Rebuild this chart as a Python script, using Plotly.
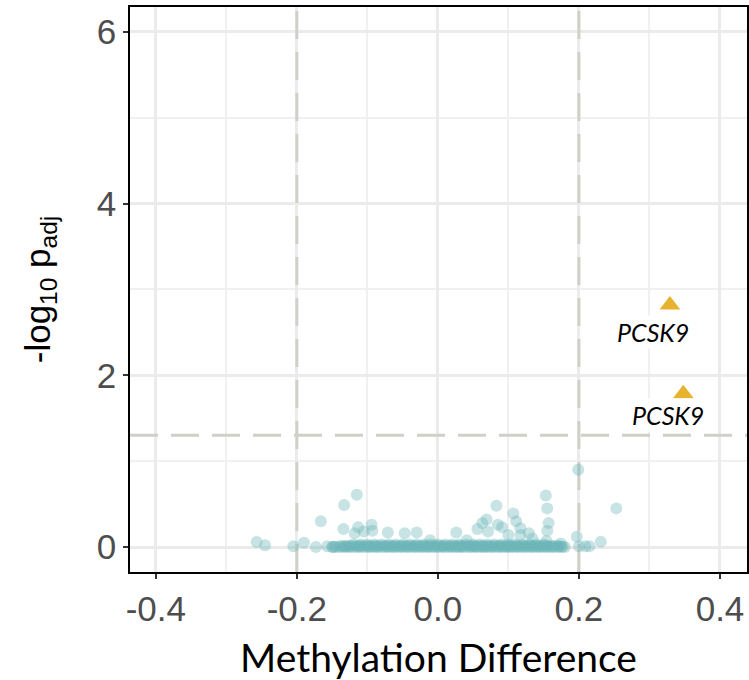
import plotly.graph_objects as go

# ---- data ----
# dense band of non-significant CpGs near zero
band_x_row0 = [-0.150, -0.145, -0.140, -0.135, -0.130, -0.125, -0.120, -0.115, -0.110, -0.105,
               -0.100, -0.095, -0.090, -0.085, -0.080, -0.075, -0.070, -0.065, -0.060, -0.055,
               -0.050, -0.045, -0.040, -0.035, -0.030, -0.025, -0.020, -0.015, -0.010, -0.005,
               0.000, 0.005, 0.010, 0.015, 0.020, 0.025, 0.030, 0.035, 0.040, 0.045,
               0.050, 0.055, 0.060, 0.065, 0.070, 0.075, 0.080, 0.085, 0.090, 0.095,
               0.100, 0.105, 0.110, 0.115, 0.120, 0.125, 0.130, 0.135, 0.140, 0.145,
               0.150, 0.155, 0.160, 0.165, 0.170, 0.175, 0.180]
band_y_row0 = [0.0] * len(band_x_row0)
band_x_row1 = [-0.138, -0.131, -0.124, -0.117, -0.110, -0.103, -0.096, -0.089, -0.082, -0.075,
               -0.068, -0.061, -0.054, -0.047, -0.040, -0.033, -0.026, -0.019, -0.012, -0.005,
               0.002, 0.009, 0.016, 0.023, 0.030, 0.037, 0.044, 0.051, 0.058, 0.065,
               0.072, 0.079, 0.086, 0.093, 0.100, 0.107, 0.114, 0.121, 0.128, 0.135,
               0.142, 0.149, 0.156, 0.163, 0.170]
band_y_row1 = [0.014] * len(band_x_row1)
band_x_row2 = [-0.12, -0.11, -0.10, -0.09, -0.08, -0.07, -0.06, -0.05, -0.04, -0.03,
               -0.02, -0.01, 0.00, 0.01, 0.02, 0.03, 0.04, 0.05, 0.06, 0.07,
               0.08, 0.09, 0.10, 0.11, 0.12, 0.13, 0.14, 0.15]
band_y_row2 = [0.028] * len(band_x_row2)
band_x_row3 = [-0.147, -0.133, -0.127, -0.112, -0.098, -0.087, -0.073, -0.063, -0.052, -0.043,
               -0.032, -0.022, -0.013, -0.003, 0.007, 0.018, 0.027, 0.033, 0.047, 0.053,
               0.063, 0.068, 0.077, 0.088, 0.097, 0.104, 0.113, 0.123, 0.133, 0.143,
               0.153, 0.162, 0.172, 0.177]
band_y_row3 = [0.006] * len(band_x_row3)

# scattered non-significant CpGs
scatter_x = [-0.257, -0.245, -0.205, -0.190, -0.173, -0.166, -0.157, -0.149, -0.133, -0.115,
             -0.134, -0.113, -0.118, -0.094, -0.105, -0.093, -0.071, -0.047, -0.030, -0.011,
             0.026, 0.041, 0.056, 0.063, 0.069, 0.083, 0.085, 0.091, 0.071, 0.107,
             0.111, 0.117, 0.100, 0.117, 0.129, 0.134, 0.153, 0.155, 0.157, 0.155,
             0.154, 0.174, 0.197, 0.200, 0.209, 0.215, 0.231, 0.253, 0.199]
scatter_y = [0.058, 0.020, 0.010, 0.050, 0.000, 0.300, 0.010, 0.000, 0.490, 0.610,
             0.210, 0.230, 0.160, 0.260, 0.180, 0.190, 0.170, 0.160, 0.170, 0.080,
             0.170, 0.080, 0.210, 0.280, 0.320, 0.480, 0.260, 0.230, 0.180, 0.390,
             0.300, 0.220, 0.140, 0.140, 0.160, 0.100, 0.600, 0.450, 0.280, 0.190,
             0.070, 0.040, 0.120, 0.010, 0.010, 0.010, 0.060, 0.450, 0.900]

# significant CpGs
sig_x = [0.329, 0.348]
sig_y = [2.82, 1.785]
sig_labels = ["PCSK9", "PCSK9"]
label_dx = [-17, -15]
label_dy = [27, 21]

# thresholds
x_thresholds = [-0.2, 0.2]
p_threshold = 1.301

x_range = [-0.4366, 0.4383]
y_range = [-0.291, 6.29]
x_ticks = [-0.4, -0.2, 0.0, 0.2, 0.4]
x_tick_text = ["-0.4", "-0.2", "0.0", "0.2", "0.4"]
y_ticks = [0, 2, 4, 6]
y_tick_text = ["0", "2", "4", "6"]

# ---- figure ----
teal = "rgba(108,182,184,0.38)"
dash = "28px,13px"
line_col = "#d0d0c8"
fig = go.Figure()

# threshold lines as traces (drawn above grid, below points)
for xv in x_thresholds:
    fig.add_trace(go.Scatter(x=[xv, xv], y=y_range, mode="lines",
                             line=dict(color=line_col, width=3, dash=dash),
                             showlegend=False, hoverinfo="skip"))
fig.add_trace(go.Scatter(x=x_range, y=[p_threshold, p_threshold], mode="lines",
                         line=dict(color=line_col, width=3, dash=dash),
                         showlegend=False, hoverinfo="skip"))

all_x = band_x_row0 + band_x_row1 + band_x_row2 + band_x_row3 + scatter_x
all_y = band_y_row0 + band_y_row1 + band_y_row2 + band_y_row3 + scatter_y
fig.add_trace(go.Scatter(x=all_x, y=all_y, mode="markers",
                         marker=dict(size=12, color=teal, line=dict(width=0)),
                         showlegend=False, hoverinfo="skip"))

fig.add_trace(go.Scatter(x=sig_x, y=sig_y, mode="markers",
                         marker=dict(symbol="triangle-up", size=18, color="#E7B32E",
                                     line=dict(width=0)),
                         showlegend=False))

for x, y, t, dx, dy in zip(sig_x, sig_y, sig_labels, label_dx, label_dy):
    fig.add_annotation(x=x, y=y, text="<i>" + t + "</i>", showarrow=True,
                       arrowcolor="rgba(0,0,0,0)", arrowwidth=0.1, ax=dx, ay=dy,
                       bgcolor="white", borderpad=1,
                       font=dict(family="Lato, Liberation Sans, sans-serif", size=25, color="black"))

tick_font = dict(family="Liberation Sans, Arial, sans-serif", size=35, color="#4d4d4d")
fig.update_xaxes(range=x_range, tickvals=x_ticks, ticktext=x_tick_text,
                 showgrid=True, gridcolor="#ebebeb", gridwidth=2.5,
                 minor=dict(dtick=0.1, tick0=-0.5, showgrid=True, gridcolor="#f0f0f0", gridwidth=1.5),
                 zeroline=False, ticks="outside", ticklen=5, tickwidth=1.5, tickcolor="#333333",
                 tickfont=tick_font, showline=True, linecolor="black", linewidth=1.5, mirror=True,
                 title=dict(text="Methylation Difference", standoff=20,
                            font=dict(family="Lato, sans-serif", size=39, color="black")))
fig.update_yaxes(range=y_range, tickvals=y_ticks, ticktext=y_tick_text,
                 showgrid=True, gridcolor="#ebebeb", gridwidth=2.5,
                 minor=dict(dtick=1, tick0=1, showgrid=True, gridcolor="#f0f0f0", gridwidth=1.5),
                 zeroline=False, ticks="outside", ticklen=5, tickwidth=1.5, tickcolor="#333333",
                 tickfont=tick_font, showline=True, linecolor="black", linewidth=1.5, mirror=True,
                 title=dict(text="-log<sub>10</sub> p<sub>adj</sub>", standoff=36,
                            font=dict(family="Liberation Sans, Arial, sans-serif", size=35, color="black")))

fig.update_layout(width=749, height=680, margin=dict(l=130, r=2, t=7, b=108, autoexpand=False),
                  plot_bgcolor="white", paper_bgcolor="white")

fig.write_html("out.html", config={"displayModeBar": False},
               post_script="document.body.style.margin='0';")
